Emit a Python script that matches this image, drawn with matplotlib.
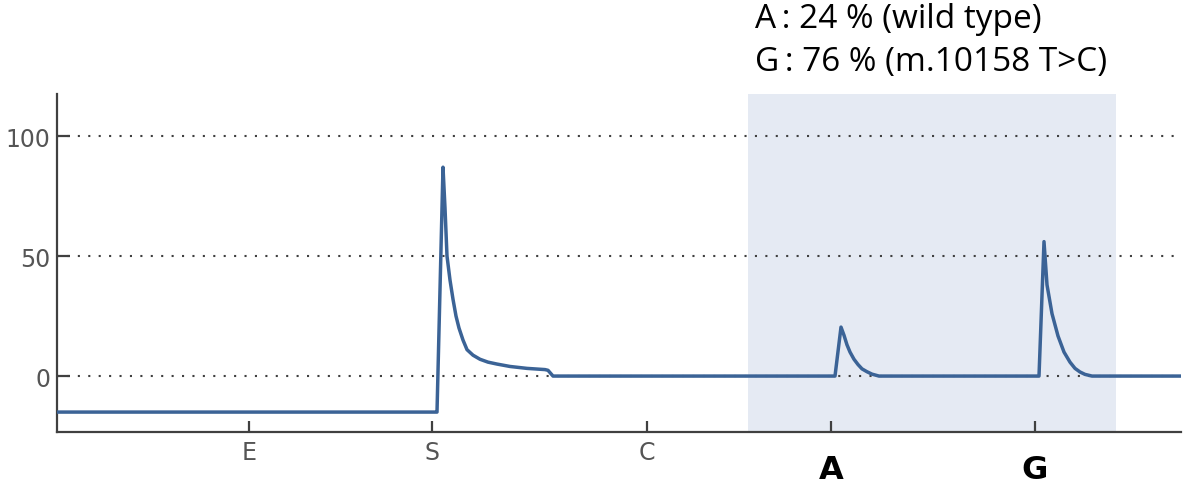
import matplotlib
matplotlib.use("Agg")
import matplotlib.pyplot as plt

# trace (x in plot units, y in signal units)
trace_x = [0, 60, 150, 250, 379, 380, 386, 388, 390, 393, 396, 399, 402, 406, 410, 416, 423, 431,
           440, 453, 470, 488, 491, 496,
           600, 700, 778, 784, 787, 790, 793, 797, 801, 805, 810, 815, 822,
           900, 982, 987, 990, 995, 1001, 1007, 1013, 1018, 1023, 1028, 1035, 1124]
trace_y = [-15, -15, -15, -15, -15, -15, 87, 70, 50, 40, 32, 25, 20, 15, 11, 8.7, 7, 5.8,
           5, 4, 3.2, 2.7, 2.4, 0,
           0, 0, 0, 20.4, 17, 13, 10, 7, 4.8, 3, 1.8, 0.8, 0,
           0, 0, 56, 38, 26, 16.7, 10, 5.8, 3.2, 1.7, 0.7, 0, 0]

ctrl_pos = [192, 375, 590]
ctrl_labels = ["E", "S", "C"]
base_pos = [774, 978]
base_labels = ["A", "G"]
yticks = [0, 50, 100]
shade_range = (691, 1059)
notes = ["A\u2009: 24 % (wild type)", "G\u2009: 76 % (m.10158 T>C)"]

fig = plt.figure(figsize=(11.83, 4.85), dpi=100)
ax = fig.add_axes([57/1183, 1 - 433/485, (1181-57)/1183, (433-95)/485])

ax.axvspan(shade_range[0], shade_range[1], color="#e5eaf3", zorder=0, lw=0)
for yv in yticks:
    ax.axhline(yv, color="#404040", lw=1.5, ls=(0, (1, 4)), zorder=1)
ax.plot(trace_x, trace_y, color="#3b6396", lw=2.5, zorder=3, solid_joinstyle="round")

ax.set_xlim(0, 1124)
ax.set_ylim(-23.3, 117.5)

for s in ["top", "right"]:
    ax.spines[s].set_visible(False)
for s in ["left", "bottom"]:
    ax.spines[s].set_color("#404040")
    ax.spines[s].set_linewidth(1.6)

ax.set_yticks(yticks)
ax.set_yticklabels([str(v) for v in yticks])
ax.tick_params(axis="y", direction="in", length=9, width=1.6, color="#404040",
               labelsize=17, labelcolor="#555555", pad=5)

ax.set_xticks(ctrl_pos)
ax.set_xticklabels(ctrl_labels)
ax.set_xticks(base_pos, minor=True)
ax.set_xticklabels(base_labels, minor=True, fontweight="bold")
ax.tick_params(axis="x", which="major", direction="in", length=8, width=1.6, color="#404040",
               labelsize=17, labelcolor="#555555", pad=6)
ax.tick_params(axis="x", which="minor", direction="in", length=8, width=1.6, color="#404040",
               labelsize=23, labelcolor="black", pad=16)

fig.text(755/1183, 1 - 20/485, notes[0], fontsize=24, family="Open Sans", va="center", ha="left")
fig.text(755/1183, 1 - 62/485, notes[1], fontsize=24, family="Open Sans", va="center", ha="left")

plt.savefig("out.png", dpi=100)
